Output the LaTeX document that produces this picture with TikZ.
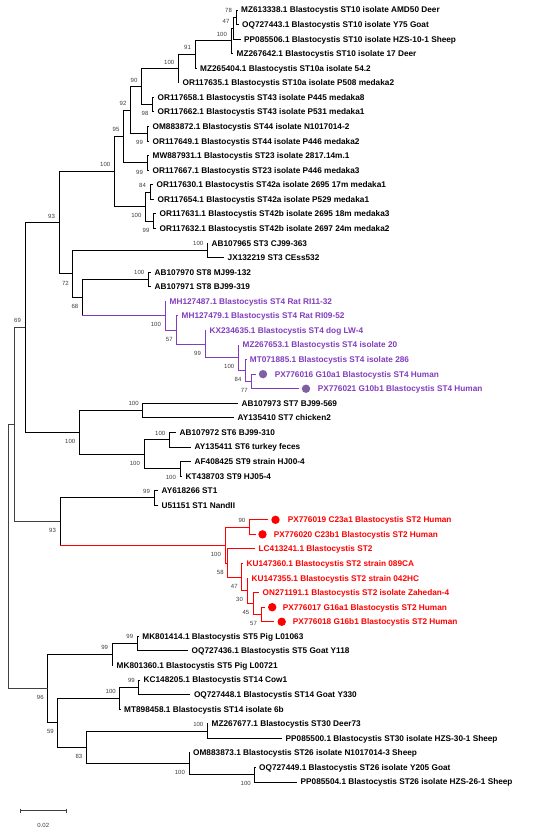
\documentclass[tikz,border=0pt]{standalone}
\usepackage{fontspec}
\setmainfont{Liberation Sans}
\usetikzlibrary{calc}
\definecolor{pcol}{RGB}{130,60,190}
\definecolor{pdotcol}{RGB}{128,96,165}
\definecolor{rcol}{RGB}{255,0,0}
\definecolor{bscol}{RGB}{60,60,60}
\newcommand\myleaffont{\fontsize{8.25}{9}\selectfont\bfseries}
\newcommand\mybsfont{\fontsize{6}{7}\selectfont}
\newcommand\bsA[2]{\node[bs] (bs-#1) at ($(#1)+(-3.6,-6.8)$) {#2};}
\newcommand\bsB[2]{\node[bs] (bs-#1) at ($(#1)+(-3.6,8.9)$) {#2};}
\begin{document}
\begin{tikzpicture}[x=1pt,y=-1pt,
 edge/.style={line width=0.95pt,draw=black},
 pedge/.style={line width=0.95pt,draw=pcol},
 redge/.style={line width=0.95pt,draw=rcol},
 rootedge/.style={line width=0.75pt,draw=black!75},
 lf/.style={anchor=west,inner xsep=3.5pt,inner ysep=0pt,text height=5.9pt,text depth=0pt,font=\myleaffont},
 lfp/.style={lf,text=pcol},
 lfr/.style={lf,text=rcol},
 pdot/.style={circle,fill=pdotcol,inner sep=0pt,minimum size=8.4pt},
 rdot/.style={circle,fill=rcol,inner sep=0pt,minimum size=8.4pt},
 bs/.style={anchor=east,inner sep=0.3pt,text height=4.3pt,text depth=0pt,font=\mybsfont,text=bscol},
 sbar/.style={line width=0.7pt,draw=black!75}]
\useasboundingbox (0,0) rectangle (550,832);

% ---------- internal nodes ----------
\coordinate (a78) at (236,17.28);
\coordinate (a47) at (233.5,28.21);
\coordinate (a100) at (231,40.95);
\coordinate (a91) at (195,54.61);
\coordinate (b100) at (178.3,68.72);
\coordinate (st43) at (152.5,104.68);
\coordinate (a90) at (141.5,86.70);
\coordinate (st44) at (147,133.81);
\coordinate (a92) at (130.5,110.26);
\coordinate (st23) at (147,162.95);
\coordinate (a95) at (123.5,136.6);
\coordinate (st42a) at (150,192.08);
\coordinate (st42b) at (153.5,221.2);
\coordinate (st42) at (145.5,206.64);
\coordinate (c100) at (114.3,171.62);
\coordinate (st3) at (207.3,250.34);
\coordinate (st8) at (148.3,279.47);
\coordinate (p77) at (251.7,381.43);
\coordinate (p84) at (245.5,370.5);
\coordinate (p100b) at (238.3,357.76);
\coordinate (p99) at (205,344.1);
\coordinate (p57) at (176.7,330.0);
\coordinate (p100) at (165,315.66);
\coordinate (a68) at (82.3,297.56);
\coordinate (a72) at (72.8,273.95);
\coordinate (a93) at (59,222.78);
\coordinate (st7) at (142.7,410.57);
\coordinate (st6) at (169.3,439.7);
\coordinate (st9) at (180,468.83);
\coordinate (st69b) at (144,454.26);
\coordinate (st769) at (79.3,432.42);
\coordinate (a69) at (25,327.6);
\coordinate (st1) at (154,497.96);
\coordinate (r90) at (249.3,527.1);
\coordinate (r57) at (261,614.49);
\coordinate (r45) at (253.3,603.57);
\coordinate (r30) at (247,590.82);
\coordinate (r47) at (241.7,577.17);
\coordinate (r58) at (227.7,563.06);
\coordinate (r100) at (225,545.08);
\coordinate (a93b) at (60,521.52);
\coordinate (nB) at (14.3,424.56);
\coordinate (st5i) at (137.2,643.62);
\coordinate (st5) at (112.1,654.55);
\coordinate (st14i) at (138.8,687.32);
\coordinate (st14) at (119.8,698.25);
\coordinate (st30) at (207.4,731.02);
\coordinate (st26i) at (254.8,774.72);
\coordinate (st26) at (189,763.8);
\coordinate (a83) at (86.4,747.41);
\coordinate (a59) at (57.8,722.83);
\coordinate (a96) at (47.7,688.69);
\coordinate (root) at (7.9,556.63);

% ---------- leaves ----------
\node[lf] (l1) at (237.5,10.00) {MZ613338.1 Blastocystis ST10 isolate AMD50 Deer};
\node[lf] (l2) at (238.5,24.57) {OQ727443.1 Blastocystis ST10 isolate Y75 Goat};
\node[lf] (l3) at (240.5,39.13) {PP085506.1 Blastocystis ST10 isolate HZS-10-1 Sheep};
\node[lf] (l4) at (233,53.70) {MZ267642.1 Blastocystis ST10 isolate 17 Deer};
\node[lf] (l5) at (196.5,68.26) {MZ265404.1 Blastocystis ST10a isolate 54.2};
\node[lf] (l6) at (179,82.83) {OR117635.1 Blastocystis ST10a isolate P508 medaka2};
\node[lf] (l7) at (154,97.40) {OR117658.1 Blastocystis ST43 isolate P445 medaka8};
\node[lf] (l8) at (154,111.96) {OR117662.1 Blastocystis ST43 isolate P531 medaka1};
\node[lf] (l9) at (149,126.53) {OM883872.1 Blastocystis ST44 isolate N1017014-2};
\node[lf] (l10) at (149,141.09) {OR117649.1 Blastocystis ST44 isolate P446 medaka2};
\node[lf] (l11) at (149,155.66) {MW887931.1 Blastocystis ST23 isolate 2817.14m.1};
\node[lf] (l12) at (149,170.23) {OR117667.1 Blastocystis ST23 isolate P446 medaka3};
\node[lf] (l13) at (153,184.79) {OR117630.1 Blastocystis ST42a isolate 2695 17m medaka1};
\node[lf] (l14) at (154,199.36) {OR117654.1 Blastocystis ST42a isolate P529 medaka1};
\node[lf] (l15) at (156,213.92) {OR117631.1 Blastocystis ST42b isolate 2695 18m medaka3};
\node[lf] (l16) at (156,228.49) {OR117632.1 Blastocystis ST42b isolate 2697 24m medaka2};
\node[lf] (l17) at (208,243.06) {AB107965 ST3 CJ99-363};
\node[lf] (l18) at (224,257.62) {JX132219 ST3 CEss532};
\node[lf] (l19) at (151,272.19) {AB107970 ST8 MJ99-132};
\node[lf] (l20) at (151,286.75) {AB107971 ST8 BJ99-319};
\node[lfp] (l21) at (166,301.32) {MH127487.1 Blastocystis ST4 Rat RI11-32};
\node[lfp] (l22) at (178,315.89) {MH127479.1 Blastocystis ST4 Rat RI09-52};
\node[lfp] (l23) at (206,330.45) {KX234635.1 Blastocystis ST4 dog LW-4};
\node[lfp] (l24) at (239,345.02) {MZ267653.1 Blastocystis ST4 isolate 20};
\node[lfp] (l25) at (246.2,359.58) {MT071885.1 Blastocystis ST4 isolate 286};
\coordinate (t26) at (256,374.15);
\node[pdot] (d26) at (263,374.15) {};
\node[lfp] (l26) at (271.1,374.15) {PX776016 G10a1 Blastocystis ST4 Human};
\coordinate (t27) at (299,388.72);
\node[pdot] (d27) at (306,388.72) {};
\node[lfp] (l27) at (314.1,388.72) {PX776021 G10b1 Blastocystis ST4 Human};
\node[lf] (l28) at (238,403.28) {AB107973 ST7 BJ99-569};
\node[lf] (l29) at (234,417.85) {AY135410 ST7 chicken2};
\node[lf] (l30) at (176,432.41) {AB107972 ST6 BJ99-310};
\node[lf] (l31) at (191,446.98) {AY135411 ST6 turkey feces};
\node[lf] (l32) at (191,461.55) {AF408425 ST9 strain HJ00-4};
\node[lf] (l33) at (182,476.11) {KT438703 ST9 HJ05-4};
\node[lf] (l34) at (158,490.68) {AY618266 ST1};
\node[lf] (l35) at (158,505.24) {U51151 ST1 NandII};
\coordinate (t36) at (268,519.81);
\node[rdot] (d36) at (275.5,519.81) {};
\node[lfr] (l36) at (284.1,519.81) {PX776019 C23a1 Blastocystis ST2 Human};
\coordinate (t37) at (256,534.38);
\node[rdot] (d37) at (262.5,534.38) {};
\node[lfr] (l37) at (270.1,534.38) {PX776020 C23b1 Blastocystis ST2 Human};
\node[lfr] (l38) at (255,548.94) {LC413241.1 Blastocystis ST2};
\node[lfr] (l39) at (243,563.51) {KU147360.1 Blastocystis ST2 strain 089CA};
\node[lfr] (l40) at (248,578.07) {KU147355.1 Blastocystis ST2 strain 042HC};
\node[lfr] (l41) at (259,592.64) {ON271191.1 Blastocystis ST2 isolate Zahedan-4};
\coordinate (t42) at (265,607.21);
\node[rdot] (d42) at (272.2,607.21) {};
\node[lfr] (l42) at (279.1,607.21) {PX776017 G16a1 Blastocystis ST2 Human};
\coordinate (t43) at (274,621.77);
\node[rdot] (d43) at (281.7,621.77) {};
\node[lfr] (l43) at (289.1,621.77) {PX776018 G16b1 Blastocystis ST2 Human};
\node[lf] (l44) at (138.7,636.34) {MK801414.1 Blastocystis ST5 Pig L01063};
\node[lf] (l45) at (188,650.90) {OQ727436.1 Blastocystis ST5 Goat Y118};
\node[lf] (l46) at (113,665.47) {MK801360.1 Blastocystis ST5 Pig L00721};
\node[lf] (l47) at (140,680.04) {KC148205.1 Blastocystis ST14 Cow1};
\node[lf] (l48) at (190.3,694.60) {OQ727448.1 Blastocystis ST14 Goat Y330};
\node[lf] (l49) at (120.5,709.17) {MT898458.1 Blastocystis ST14 isolate 6b};
\node[lf] (l50) at (208,723.73) {MZ267677.1 Blastocystis ST30 Deer73};
\node[lf] (l51) at (282,738.30) {PP085500.1 Blastocystis ST30 isolate HZS-30-1 Sheep};
\node[lf] (l52) at (189.5,752.87) {OM883873.1 Blastocystis ST26 isolate N1017014-3 Sheep};
\node[lf] (l53) at (255.5,767.43) {OQ727449.1 Blastocystis ST26 isolate Y205 Goat};
\node[lf] (l54) at (297,782.00) {PP085504.1 Blastocystis ST26 isolate HZS-26-1 Sheep};

% ---------- black edges ----------
\draw[edge] (a78) |- (l1); \draw[edge] (a78) |- (l2);
\draw[edge] (a47) |- (a78); \draw[edge] (a47) |- (l3);
\draw[edge] (a100) |- (a47); \draw[edge] (a100) |- (l4);
\draw[edge] (a91) |- (a100); \draw[edge] (a91) |- (l5);
\draw[edge] (b100) |- (a91); \draw[edge] (b100) |- (l6);
\draw[edge] (a90) |- (b100); \draw[edge] (a90) |- (st43);
\draw[edge] (st43) |- (l7); \draw[edge] (st43) |- (l8);
\draw[edge] (st44) |- (l9); \draw[edge] (st44) |- (l10);
\draw[edge] (a92) |- (a90); \draw[edge] (a92) |- (st44);
\draw[edge] (st23) |- (l11); \draw[edge] (st23) |- (l12);
\draw[edge] (a95) |- (a92); \draw[edge] (a95) |- (st23);
\draw[edge] (st42a) |- (l13); \draw[edge] (st42a) |- (l14);
\draw[edge] (st42b) |- (l15); \draw[edge] (st42b) |- (l16);
\draw[edge] (st42) |- (st42a); \draw[edge] (st42) |- (st42b);
\draw[edge] (c100) |- (a95); \draw[edge] (c100) |- (st42);
\draw[edge] (st3) |- (l17); \draw[edge] (st3) |- (l18);
\draw[edge] (st8) |- (l19); \draw[edge] (st8) |- (l20);
\draw[edge] (a68) |- (st8); \draw[edge] (a68) -- (a68 |- p100);
\draw[edge] (a72) |- (st3); \draw[edge] (a72) |- (a68);
\draw[edge] (a93) |- (c100); \draw[edge] (a93) |- (a72);
\draw[edge] (st7) |- (l28); \draw[edge] (st7) |- (l29);
\draw[edge] (st6) |- (l30); \draw[edge] (st6) |- (l31);
\draw[edge] (st9) |- (l32); \draw[edge] (st9) |- (l33);
\draw[edge] (st69b) |- (st6); \draw[edge] (st69b) |- (st9);
\draw[edge] (st769) |- (st7); \draw[edge] (st769) |- (st69b);
\draw[edge] (a69) |- (a93); \draw[edge] (a69) |- (st769);
\draw[edge] (st1) |- (l34); \draw[edge] (st1) |- (l35);
\draw[edge] (a93b) |- (st1); \draw[edge] (a93b) -- (a93b |- r100);
\draw[edge] (st5i) |- (l44); \draw[edge] (st5i) |- (l45);
\draw[edge] (st5) |- (st5i); \draw[edge] (st5) |- (l46);
\draw[edge] (st14i) |- (l47); \draw[edge] (st14i) |- (l48);
\draw[edge] (st14) |- (st14i); \draw[edge] (st14) |- (l49);
\draw[edge] (st30) |- (l50); \draw[edge] (st30) |- (l51);
\draw[edge] (st26i) |- (l53); \draw[edge] (st26i) |- (l54);
\draw[edge] (st26) |- (l52); \draw[edge] (st26) |- (st26i);
\draw[edge] (a83) |- (st30); \draw[edge] (a83) |- (st26);
\draw[edge] (a59) |- (st14); \draw[edge] (a59) |- (a83);
\draw[edge] (a96) |- (st5); \draw[edge] (a96) |- (a59);
\draw[rootedge] (nB) |- (a69); \draw[rootedge] (nB) |- (a93b);
\draw[rootedge] (root) |- (nB); \draw[rootedge] (root) |- (a96);

% ---------- purple (ST4) edges ----------
\draw[pedge] (a68 |- p100) -- (p100);
\draw[pedge] (p100) |- (l21); \draw[pedge] (p100) |- (p57);
\draw[pedge] (p57) |- (l22); \draw[pedge] (p57) |- (p99);
\draw[pedge] (p99) |- (l23); \draw[pedge] (p99) |- (p100b);
\draw[pedge] (p100b) |- (l24); \draw[pedge] (p100b) |- (p84);
\draw[pedge] (p84) |- (l25); \draw[pedge] (p84) |- (p77);
\draw[pedge] (p77) |- (t26); \draw[pedge] (p77) |- (t27);

% ---------- red (ST2) edges ----------
\draw[redge] (a93b |- r100) -- (r100);
\draw[redge] (r100) |- (r90); \draw[redge] (r100) |- (r58);
\draw[redge] (r90) |- (t36); \draw[redge] (r90) |- (t37);
\draw[redge] (r58) |- (l38); \draw[redge] (r58) |- (r47);
\draw[redge] (r47) |- (l39); \draw[redge] (r47) |- (r30);
\draw[redge] (r30) |- (l40); \draw[redge] (r30) |- (r45);
\draw[redge] (r45) |- (l41); \draw[redge] (r45) |- (r57);
\draw[redge] (r57) |- (t42); \draw[redge] (r57) |- (t43);

% ---------- bootstrap values ----------
\bsA{a78}{78} \bsA{a47}{47} \bsA{a100}{100} \bsA{a91}{91} \bsA{b100}{100}
\bsA{a90}{90} \bsB{st43}{98} \bsA{a92}{92} \bsB{st44}{99} \bsA{a95}{95}
\bsB{st23}{99} \bsA{st42a}{84} \bsB{st42b}{99} \bsB{st42}{100} \bsA{c100}{100}
\bsA{a93}{93} \bsA{st3}{100} \bsB{a72}{72} \bsA{st8}{100} \bsB{a68}{68}
\bsB{p100}{100} \bsB{p57}{57} \bsB{p99}{99} \bsB{p100b}{100} \bsB{p84}{84} \bsB{p77}{77}
\bsA{a69}{69} \bsA{st7}{100} \bsB{st769}{100} \bsA{st6}{100} \bsB{st69b}{100} \bsB{st9}{100}
\bsA{st1}{99} \bsB{a93b}{93} \bsA{r90}{90} \bsB{r100}{100} \bsB{r58}{58} \bsB{r47}{47}
\bsB{r30}{30} \bsB{r45}{45} \bsB{r57}{57}
\bsA{st5i}{99} \bsA{st5}{99} \bsB{a96}{96} \bsA{st14i}{99} \bsA{st14}{100}
\bsB{a59}{59} \bsA{st30}{100} \bsB{a83}{83} \bsB{st26}{100} \bsB{st26i}{100}

% ---------- scale bar ----------
\coordinate (sbL) at (20.5,810.7);
\coordinate (sbR) at (66,810.7);
\draw[sbar] (sbL) -- (sbR);
\draw[sbar] ($(sbL)+(0,-2.2)$) -- ($(sbL)+(0,2.2)$);
\draw[sbar] ($(sbR)+(0,-2.2)$) -- ($(sbR)+(0,2.2)$);
\node[font=\mybsfont,text=bscol,inner sep=0pt] (sblab) at (43.3,825) {0.02};
\end{tikzpicture}
\end{document}
